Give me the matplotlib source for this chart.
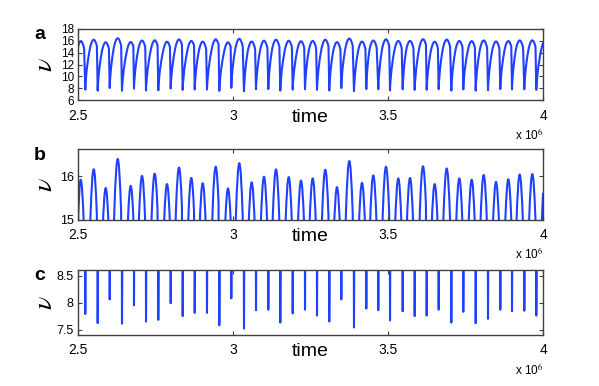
import matplotlib
matplotlib.use("Agg")
import matplotlib.pyplot as plt
from matplotlib.path import Path
from matplotlib.patches import PathPatch

plt.rcParams["font.family"] = ["Liberation Sans", "DejaVu Sans"]
plt.rcParams["mathtext.fontset"] = "stix"

# time in units of 10^6
peak_t = [2.5087, 2.5506, 2.5894, 2.6281, 2.6700, 2.7065, 2.7474, 2.7871, 2.8258, 2.8655,
          2.9023, 2.9442, 2.9839, 3.0203, 3.0603, 3.1000, 3.1387, 3.1797, 3.2194, 3.2571,
          3.2977, 3.3355, 3.3752, 3.4161, 3.4526, 3.4935, 3.5332, 3.5710, 3.6129, 3.6506,
          3.6894, 3.7300, 3.7700, 3.8087, 3.8484, 3.8881, 3.9248, 3.9655]
peak_v = [15.92, 16.16, 15.73, 16.40, 15.78, 16.01, 16.06, 15.82, 16.20, 15.96,
          15.84, 16.22, 15.72, 16.30, 15.86, 15.99, 16.16, 15.98, 15.90, 15.95,
          16.15, 15.75, 16.35, 15.85, 16.02, 16.22, 15.95, 15.96, 16.23, 15.82,
          16.18, 15.95, 15.92, 16.03, 15.87, 15.93, 16.04, 16.05]
trough_t = [2.5235, 2.5635, 2.6023, 2.6419, 2.6806, 2.7194, 2.7590, 2.7990, 2.8377, 2.8765,
            2.9161, 2.9558, 2.9945, 3.0355, 3.0742, 3.1139, 3.1526, 3.1926, 3.2323, 3.2710,
            3.3106, 3.3494, 3.3903, 3.4300, 3.4687, 3.5065, 3.5474, 3.5861, 3.6248, 3.6635,
            3.7042, 3.7429, 3.7829, 3.8226, 3.8623, 3.9000, 3.9397, 3.9784]
trough_v = [7.79, 7.62, 8.06, 7.61, 7.95, 7.65, 7.68, 7.99, 7.75, 7.81,
            7.81, 7.58, 8.08, 7.52, 7.86, 7.87, 7.63, 7.80, 7.87, 7.76,
            7.65, 8.06, 7.54, 7.89, 7.86, 7.67, 7.84, 7.75, 7.76, 7.87,
            7.63, 7.83, 7.62, 7.70, 7.87, 7.84, 7.85, 7.76]
start_tv = (2.5, 14.9)
end_tv = (4.0, 15.6)

panel_names = ["a", "b", "c"]
panel_ylims = [(6, 18), (15, 16.62), (7.4, 8.605)]
panel_yticks = [[6, 8, 10, 12, 14, 16, 18], [15, 16], [7.5, 8, 8.5]]
panel_yticklabels = [["6", "8", "10", "12", "14", "16", "18"], ["15", "16"], ["7.5", "8", "8.5"]]
xticks = [2.5, 3, 3.5, 4]
xticklabels = ["2.5", "3", "3.5", "4"]

line_color = "#2040ff"
spine_color = "#404040"

# shape of one spike: rounded cap around the peak, steep drop, steep rise
CAP = 0.011      # half width of the rounded cap (time units)
K = 10100.0      # curvature of the cap


def build_path():
    verts = [start_tv]
    codes = [Path.MOVETO]
    prev = None
    for tp, vp, tt, vt in zip(peak_t, peak_v, trough_t, trough_v):
        d = min(CAP, 0.8 * (tt - tp))
        vs = vp - K * d * d
        if prev is None:
            verts += [((start_tv[0] + tp) / 2, vp), (tp, vp)]
            codes += [Path.CURVE3] * 2
        else:
            t0, v0 = prev
            span = (tp - d) - t0
            c1 = (t0 + 0.1 * span, v0 + 0.4 * (vs - v0))
            c2 = (tp - d - span / 3, max(vs - 2 * K * d * span / 3, c1[1]))
            verts += [c1, c2, (tp - d, vs)]
            codes += [Path.CURVE4] * 3
            verts += [(tp - d / 2, vp), (tp, vp)]
            codes += [Path.CURVE3] * 2
        verts += [(tp + d / 2, vp), (tp + d, vs), (tt, vt)]
        codes += [Path.CURVE3, Path.CURVE3, Path.LINETO]
        prev = (tt, vt)
    t0, v0 = prev
    span = end_tv[0] - t0
    verts += [(t0 + 0.1 * span, v0 + 0.4 * (end_tv[1] - v0)),
              (end_tv[0] - span / 3, end_tv[1] - 1.0), end_tv]
    codes += [Path.CURVE4] * 3
    return Path(verts, codes)


W, H = 599, 386
# axes boxes in pixels: left, top, right, bottom
boxes = [(78, 28.7, 543, 100.3), (78, 149.3, 543, 219.7), (78, 270, 543, 335)]
ytick_sizes = [8.5, 9, 9]

fig = plt.figure(figsize=(W / 100, H / 100), dpi=100)
path = build_path()

for i, (l, t, r, b) in enumerate(boxes):
    ax = fig.add_axes([l / W, 1 - b / H, (r - l) / W, (b - t) / H])
    ax.add_patch(PathPatch(path, facecolor="none", edgecolor=line_color,
                           lw=1.5, joinstyle="round", capstyle="round"))
    ax.set_xlim(2.5, 4)
    ax.set_ylim(*panel_ylims[i])
    ax.set_xticks(xticks)
    ax.set_xticklabels(xticklabels)
    ax.set_yticks(panel_yticks[i])
    ax.set_yticklabels(panel_yticklabels[i])
    ax.tick_params(direction="in", length=3, width=0.8, color=spine_color,
                   top=True, right=True, colors="black")
    ax.tick_params(axis="x", pad=6, labelsize=10)
    ax.tick_params(axis="y", pad=3, labelsize=ytick_sizes[i])
    for s in ax.spines.values():
        s.set_color(spine_color)
        s.set_linewidth(1.0)
    hpx = b - t
    ax.set_xlabel("time", fontsize=14, va="top")
    ax.xaxis.set_label_coords(0.5, -8.5 / hpx)
    ax.set_ylabel(r"$\nu$", fontsize=20, va="center", rotation=90)
    ax.yaxis.set_label_coords(-33 / 465, 0.5)
    ax.text(1.0, -34 / hpx, r"x 10$^{6}$", transform=ax.transAxes,
            ha="right", va="center", fontsize=8.5)
    fig.text(40 / W, 1 - (t + 6) / H, panel_names[i], fontsize=14,
             fontweight="bold", ha="center", va="center")

fig.savefig("out.png", dpi=100)
